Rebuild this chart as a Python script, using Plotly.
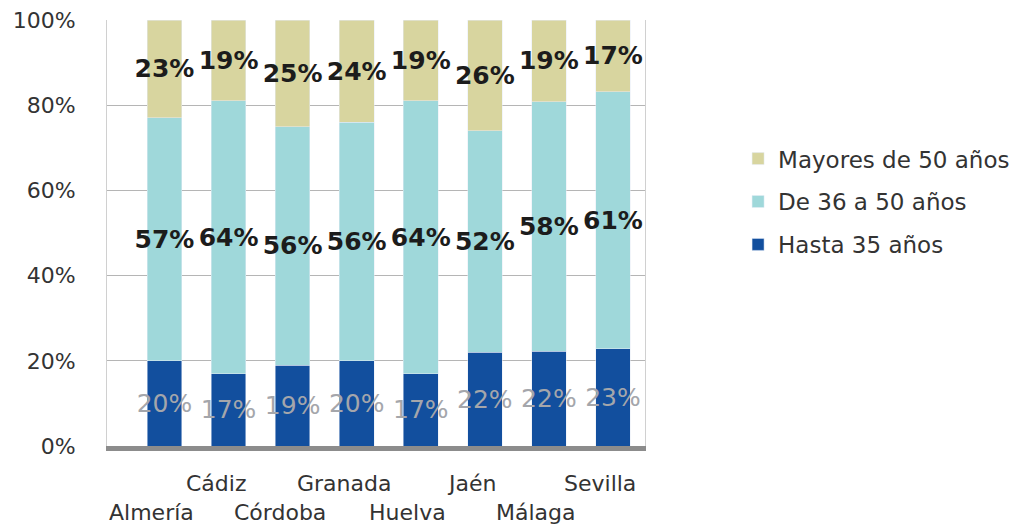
import plotly.graph_objects as go

provincias = ["Almería", "Cádiz", "Córdoba", "Granada", "Huelva", "Jaén", "Málaga", "Sevilla"]
hasta35 = [20, 17, 19, 20, 17, 22, 22, 23]
de36a50 = [57, 64, 56, 56, 64, 52, 58, 61]
mayores50 = [23, 19, 25, 24, 19, 26, 19, 17]
yticks = [0, 20, 40, 60, 80, 100]

fuente = "DejaVu Sans"

fig = go.Figure()
#series de abajo a arriba
fig.add_trace(go.Bar(x=provincias, y=hasta35, name="Hasta 35 años", marker_color="#124f9e",
                     legendgroup="a", legendrank=3,
                     text=[str(v) + "%" for v in hasta35], textposition="inside", textangle=0,
                     insidetextanchor="middle", constraintext="none",
                     insidetextfont=dict(color="#a4a6ab", size=25, family=fuente)))
fig.add_trace(go.Bar(x=provincias, y=de36a50, name="De 36 a 50 años", marker_color="#9fd8da",
                     legendgroup="b", legendrank=2,
                     text=["<b>" + str(v) + "%</b>" for v in de36a50], textposition="inside", textangle=0,
                     insidetextanchor="middle", constraintext="none",
                     insidetextfont=dict(color="#1c1c1c", size=25, family=fuente)))
fig.add_trace(go.Bar(x=provincias, y=mayores50, name="Mayores de 50 años", marker_color="#d8d59f",
                     legendgroup="c", legendrank=1,
                     text=["<b>" + str(v) + "%</b>" for v in mayores50], textposition="inside", textangle=0,
                     insidetextanchor="middle", constraintext="none",
                     insidetextfont=dict(color="#1c1c1c", size=25, family=fuente)))

#etiquetas del eje x en dos filas (algo desplazadas a la izquierda, como en la vista 3D)
for i, p in enumerate(provincias):
    fig.add_annotation(x=p, xref="x", y=0, yref="paper", text=p, showarrow=False,
                       yanchor="top", yshift=-23 if i % 2 == 1 else -52, xshift=-13,
                       font=dict(size=22, color="#333333", family=fuente))

fig.update_layout(
    barmode="stack", barnorm="percent", bargap=0.46,
    width=1019, height=524, paper_bgcolor="white", plot_bgcolor="white",
    margin=dict(l=99, r=382, t=12, b=86, autoexpand=False),
    font=dict(family=fuente, color="#333333", size=22),
    legend=dict(x=1.173, y=0.725, yanchor="top", traceorder="grouped",
                font=dict(size=23, color="#333333"), tracegroupgap=10),
    showlegend=True,
)
fig.update_xaxes(showticklabels=False, showline=True, linecolor="#8c8c8c", linewidth=5,
                 showgrid=False, automargin=False)
fig.update_yaxes(range=[0, 100], tickvals=yticks, ticktext=[str(v) + "%" for v in yticks],
                 showgrid=True, gridcolor="#b5b5b5", gridwidth=1, ticks="", ticklen=0,
                 ticklabelstandoff=26, ticklabeloverflow="allow", automargin=False,
                 tickfont=dict(size=22, color="#333333"), zeroline=False,
                 showline=True, linecolor="#d0d0d0", mirror=True)

fig.write_html("out.html")
